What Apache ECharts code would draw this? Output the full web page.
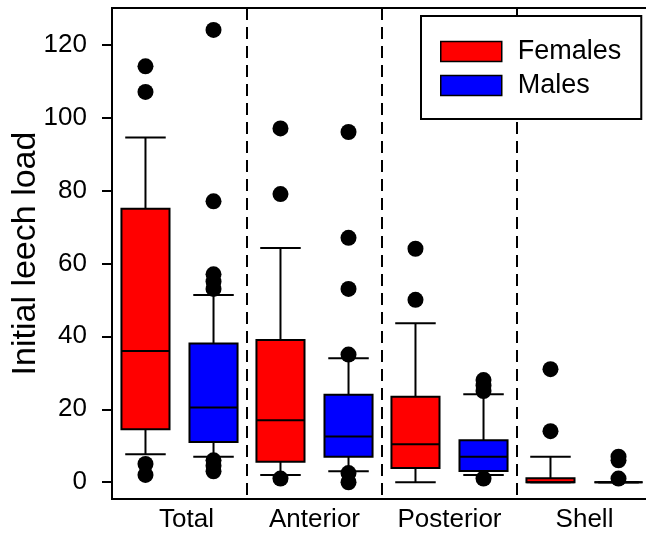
<!DOCTYPE html>
<html><head><meta charset="utf-8">
<script src="https://cdn.jsdelivr.net/npm/echarts@6/dist/echarts.min.js"></script>
<style>html,body{margin:0;padding:0;background:#fff}#c{width:646px;height:534px}</style>
</head><body><div id="c"></div>
<script>
const categories = ['Total', 'Anterior', 'Posterior', 'Shell'];
const yTicks = [0, 20, 40, 60, 80, 100, 120];
// [lower whisker, Q1, median, Q3, upper whisker]
const femaleBoxes = [[7.7, 14.5, 36, 75, 94.5], [2, 5.6, 17, 39, 64.2], [0, 3.9, 10.4, 23.4, 43.6], [0, 0, 0, 1.1, 7]];
const maleBoxes = [[7, 11, 20.5, 38, 51.3], [3, 7, 12.5, 24, 34], [2, 3.1, 7, 11.5, 24.1], [0, 0, 0, 0, 0]];
const femaleOutliers = [[114, 107, 5, 2], [97, 79, 1], [64, 50], [31, 14]];
const maleOutliers = [[124, 77, 57, 55, 53, 6, 4.5, 3], [96, 67, 53, 35, 2.5, 0], [28, 26.5, 25, 1], [7, 6, 1]];

const FONT = 'Liberation Sans, Arial, sans-serif';
const RED = '#ff0000', BLUE = '#0000ff';

function boxRenderer(side, color) {
  return function (params, api) {
    const i = api.value(0);
    const band = api.size([1, 0])[0];
    const cx = api.coord([i, 0])[0] + side * band * 0.252;
    const hw = band * 0.178, cw = band * 0.15;
    const y = k => api.coord([i, api.value(k)])[1];
    const lo = y(1), q1 = y(2), md = y(3), q3 = y(4), hi = y(5);
    const ls = { stroke: '#000', lineWidth: 2 };
    return {
      type: 'group', children: [
        { type: 'line', shape: { x1: cx, y1: q1, x2: cx, y2: lo }, style: ls },
        { type: 'line', shape: { x1: cx, y1: q3, x2: cx, y2: hi }, style: ls },
        { type: 'line', shape: { x1: cx - cw, y1: lo, x2: cx + cw, y2: lo }, style: ls },
        { type: 'line', shape: { x1: cx - cw, y1: hi, x2: cx + cw, y2: hi }, style: ls },
        { type: 'rect', shape: { x: cx - hw, y: q3, width: hw * 2, height: Math.max(q1 - q3, 0) }, style: { fill: color, stroke: '#000', lineWidth: 2 } },
        { type: 'line', shape: { x1: cx - hw, y1: md, x2: cx + hw, y2: md }, style: ls }
      ]
    };
  };
}
function dotRenderer(side) {
  return function (params, api) {
    const i = api.value(0);
    const band = api.size([1, 0])[0];
    const p = api.coord([i, api.value(1)]);
    return { type: 'circle', shape: { cx: p[0] + side * band * 0.252, cy: p[1], r: 8 }, style: { fill: '#000' } };
  };
}
const flat = arr => arr.flatMap((vals, i) => vals.map(v => [i, v]));

const chart = echarts.init(document.getElementById('c'), null, { renderer: 'canvas' });
chart.setOption({
  animation: false,
  backgroundColor: '#fff',
  grid: { left: 112, top: 8, width: 540, height: 491, outerBoundsMode: 'none', containLabel: false, show: true, borderColor: '#000', borderWidth: 2, backgroundColor: 'transparent' },
  legend: {
    orient: 'vertical', left: 421, top: 16,
    padding: [22, 20, 20, 19], itemGap: 7, itemWidth: 61, itemHeight: 20,
    borderColor: '#000', borderWidth: 2, backgroundColor: '#fff',
    textStyle: { fontSize: 27, color: '#000', fontFamily: FONT, padding: [0, 0, 0, 11] },
    data: [
      { name: 'Females', icon: 'rect', itemStyle: { color: RED, borderColor: '#000', borderWidth: 1.5 } },
      { name: 'Males', icon: 'rect', itemStyle: { color: BLUE, borderColor: '#000', borderWidth: 1.5 } }
    ]
  },
  xAxis: {
    type: 'category',
    data: categories.map((c, i) => i === 0 ? { value: c, textStyle: { padding: [0, 0, 0, 14] } } : c),
    boundaryGap: true,
    axisLine: { onZero: false, lineStyle: { color: '#000', width: 2 } },
    axisTick: { show: false },
    axisLabel: { fontSize: 26, color: '#000', fontFamily: FONT, margin: 8, interval: 0 },
    splitLine: { show: true, interval: 0, lineStyle: { color: '#000', width: 2, type: [12, 7] } }
  },
  yAxis: {
    type: 'value', min: -4.6, max: 130,
    name: 'Initial leech load', nameLocation: 'middle', nameRotate: 90, nameGap: 69, nameMoveOverlap: false,
    nameTextStyle: { fontSize: 34, color: '#000', fontFamily: FONT },
    axisLine: { show: true, lineStyle: { color: '#000', width: 2 } },
    axisTick: { show: true, length: 10, lineStyle: { color: '#000', width: 2 }, customValues: yTicks },
    axisLabel: { fontSize: 26, color: '#000', fontFamily: FONT, margin: 25, customValues: yTicks },
    splitLine: { show: false }
  },
  series: [
    { name: 'Females', type: 'custom', itemStyle: { color: RED }, renderItem: boxRenderer(-1, RED), encode: { x: 0, y: [1, 2, 3, 4, 5] }, data: femaleBoxes.map((b, i) => [i, ...b]), z: 2 },
    { name: 'Males', type: 'custom', itemStyle: { color: BLUE }, renderItem: boxRenderer(1, BLUE), encode: { x: 0, y: [1, 2, 3, 4, 5] }, data: maleBoxes.map((b, i) => [i, ...b]), z: 2 },
    { name: 'Females outliers', type: 'custom', renderItem: dotRenderer(-1), encode: { x: 0, y: 1 }, data: flat(femaleOutliers), z: 3 },
    { name: 'Males outliers', type: 'custom', renderItem: dotRenderer(1), encode: { x: 0, y: 1 }, data: flat(maleOutliers), z: 3 }
  ]
});
</script></body></html>
